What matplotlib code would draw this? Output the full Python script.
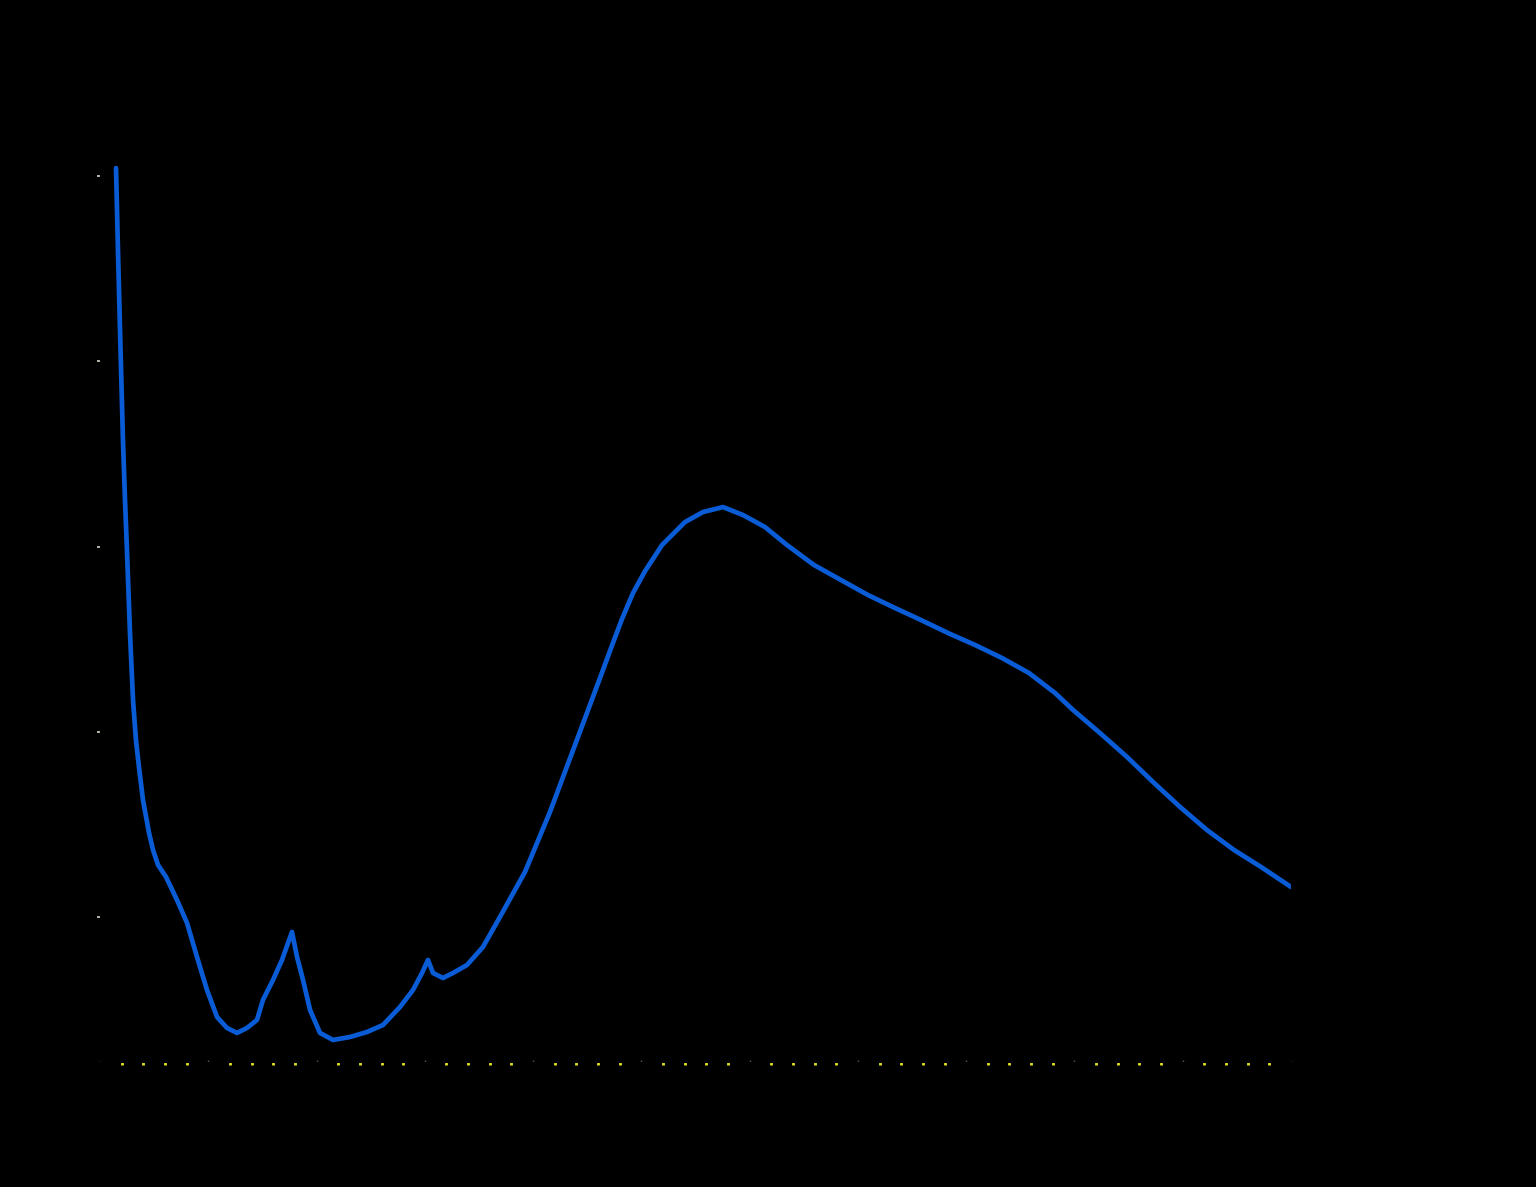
import matplotlib
matplotlib.use("Agg")
import matplotlib.pyplot as plt
from matplotlib.ticker import MultipleLocator
import numpy as np

# spectrum
wavelength = [214.8, 216.6, 218.5, 221.2, 223.1, 224.9, 227.7, 230.5, 233.2, 236.0,
              239.7, 245.3, 249.0, 253.6, 261.0, 271.1, 280.4, 289.6, 298.8, 308.1,
              317.3, 326.5, 335.8, 345.0, 350.5, 359.8, 368.1, 377.3, 382.0, 387.5,
              394.0, 403.2, 415.2, 430.9, 446.6, 461.4, 477.1, 489.1, 497.4, 502.9,
              507.6, 516.8, 526.0, 539.0, 553.7, 569.4, 592.5, 615.6, 638.7, 661.8,
              672.0, 682.1, 692.3, 703.4, 719.1, 740.3, 756.9, 775.4, 793.9, 814.2,
              834.5, 859.5, 884.4, 909.3, 934.3, 958.3, 983.2, 1008.2, 1033.1, 1058.0,
              1082.1, 1098.7, 1123.6, 1148.6, 1173.5, 1197.5, 1222.4, 1247.4, 1272.3, 1300.0]
absorbance = [1.0086, 0.9201, 0.8337, 0.7150, 0.6502, 0.5962, 0.5066, 0.4343, 0.3911, 0.3619,
              0.3263, 0.2907, 0.2723, 0.2561, 0.2432, 0.2184, 0.1935, 0.1568, 0.1212, 0.0920,
              0.0802, 0.0748, 0.0802, 0.0888, 0.1104, 0.1320, 0.1536, 0.1838, 0.1568, 0.1320,
              0.0996, 0.0748, 0.0672, 0.0704, 0.0758, 0.0834, 0.1028, 0.1212, 0.1395, 0.1536,
              0.1395, 0.1341, 0.1395, 0.1482, 0.1676, 0.2000, 0.2486, 0.3134, 0.3857, 0.4580,
              0.4904, 0.5217, 0.5498, 0.5735, 0.6016, 0.6264, 0.6372, 0.6426, 0.6340, 0.6210,
              0.6016, 0.5800, 0.5638, 0.5476, 0.5336, 0.5206, 0.5066, 0.4937, 0.4796, 0.4634,
              0.4418, 0.4235, 0.3986, 0.3727, 0.3447, 0.3188, 0.2939, 0.2723, 0.2540, 0.2324]
x_ticks = [200, 300, 400, 500, 600, 700, 800, 900, 1000, 1100, 1200, 1300]
y_ticks = [0.2, 0.4, 0.6, 0.8, 1.0]

fig = plt.figure(figsize=(15.36, 11.87), dpi=100, facecolor="black")
ax = fig.add_axes([0.0651, 0.1053, 0.7754, 0.7854])
ax.set_facecolor("black")

ax.plot(wavelength, absorbance, color="#0a5cd6", lw=3.4, solid_capstyle="round",
        solid_joinstyle="round")

ax.set_xlim(200, 1300)
ax.set_ylim(0.0434, 1.05)
ax.set_xticks(x_ticks)
ax.set_yticks(y_ticks)
ax.xaxis.set_minor_locator(MultipleLocator(20))

#ticks show up only as faint specks on the dark background
ax.tick_params(axis="x", which="major", direction="in", length=1.5, width=1, color="#555555",
               labelcolor="black", labelsize=16)
ax.tick_params(axis="x", which="minor", direction="out", length=2.5, width=2, color="#e6e62a")
ax.tick_params(axis="y", which="major", direction="out", length=2, width=1.2, color="#d8d8c8",
               labelcolor="black", labelsize=16)
for s in ax.spines.values():
    s.set_color("black")

ax.set_xlabel("Wavelength (nm)", color="black", fontsize=18)
ax.set_ylabel("Absorbance (a.u.)", color="black", fontsize=18)

fig.savefig("out.png", dpi=100, facecolor="black")
